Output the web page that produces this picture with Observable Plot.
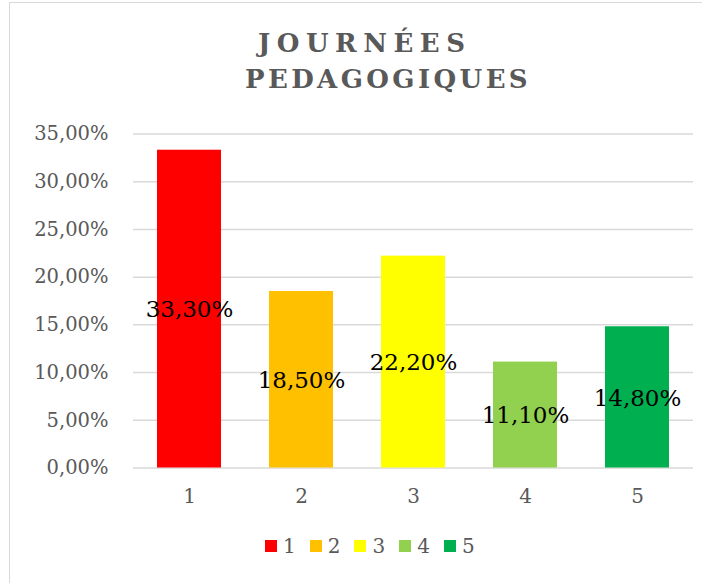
<!DOCTYPE html>
<html><head><meta charset="utf-8">
<script src="https://cdn.jsdelivr.net/npm/d3@7"></script>
<script src="https://cdn.jsdelivr.net/npm/@observablehq/plot@0.6"></script>
<style>
html,body{margin:0;padding:0;background:#fff;overflow:hidden;}
#wrap{position:relative;width:702px;height:583px;overflow:hidden;font-family:"DejaVu Serif",serif;background:#fff;}
#border{position:absolute;left:9px;top:2px;width:800px;height:700px;border:1.5px solid #d9d9d9;box-sizing:border-box;}
#chart{position:absolute;left:0;top:0;}
.tl{position:absolute;white-space:nowrap;font-weight:bold;font-size:26px;line-height:36px;color:#595959;}
#legend{position:absolute;left:265px;top:536px;display:flex;align-items:center;font-size:20px;color:#595959;height:20px;}
.item{display:flex;align-items:center;margin-right:14px;}
.sw{width:12px;height:12px;margin-right:6px;}
</style></head>
<body><div id="wrap"><div id="border"></div><div id="chart"></div><div id="legend"></div></div>
<script>
const categories = ["1", "2", "3", "4", "5"];
const values = [0.333, 0.185, 0.222, 0.111, 0.148];
const colors = ["#FF0000", "#FFC000", "#FFFF00", "#92D050", "#00B050"];
const yTicks = [0, 0.05, 0.10, 0.15, 0.20, 0.25, 0.30, 0.35];
const titleLines = ["JOURNÉES", "PEDAGOGIQUES"];

const data = categories.map((c, i) => ({cat: c, value: values[i]}));
const loc = d3.formatLocale({decimal: ",", thousands: " ", grouping: [3], currency: ["", " €"]});
const pct = loc.format(".2%");

const chart = Plot.plot({
  width: 702, height: 583,
  marginTop: 133.5, marginBottom: 115.5, marginLeft: 133, marginRight: 9,
  style: {fontFamily: "'DejaVu Serif', serif", fontSize: "19px", color: "#595959", background: "transparent"},
  x: {domain: categories, paddingInner: 0.4286, paddingOuter: 0.2143, label: null},
  y: {domain: [0, 0.35], label: null},
  color: {domain: categories, range: colors},
  marks: [
    Plot.gridY(yTicks, {stroke: "#d9d9d9", strokeOpacity: 1, strokeWidth: 1.5}),
    Plot.barY(data, {x: "cat", y: "value", fill: "cat"}),
    Plot.text(data, {x: "cat", y: d => d.value / 2, text: d => pct(d.value), fontSize: 23, fill: "black", dy: 1}),
    Plot.axisX({tickSize: 0, tickPadding: 21, fontSize: 20, label: null}),
    Plot.axisY(yTicks, {tickSize: 0, tickPadding: 25, tickFormat: pct, fontSize: 19.5, label: null})
  ]
});
document.getElementById("chart").appendChild(chart);

const wrap = document.getElementById("wrap");
const linePos = [{left: 258, top: 25, ls: 6.5}, {left: 245, top: 61, ls: 3.4}];
titleLines.forEach((l, i) => {
  const d = document.createElement("div"); d.className = "tl"; d.textContent = l;
  d.style.left = linePos[i].left + "px"; d.style.top = linePos[i].top + "px";
  d.style.letterSpacing = linePos[i].ls + "px";
  wrap.appendChild(d);
});

const lg = document.getElementById("legend");
categories.forEach((c, i) => {
  const it = document.createElement("div"); it.className = "item";
  const sw = document.createElement("div"); sw.className = "sw"; sw.style.background = colors[i];
  const tx = document.createElement("span"); tx.textContent = c;
  it.appendChild(sw); it.appendChild(tx); lg.appendChild(it);
});
</script>
</body></html>
